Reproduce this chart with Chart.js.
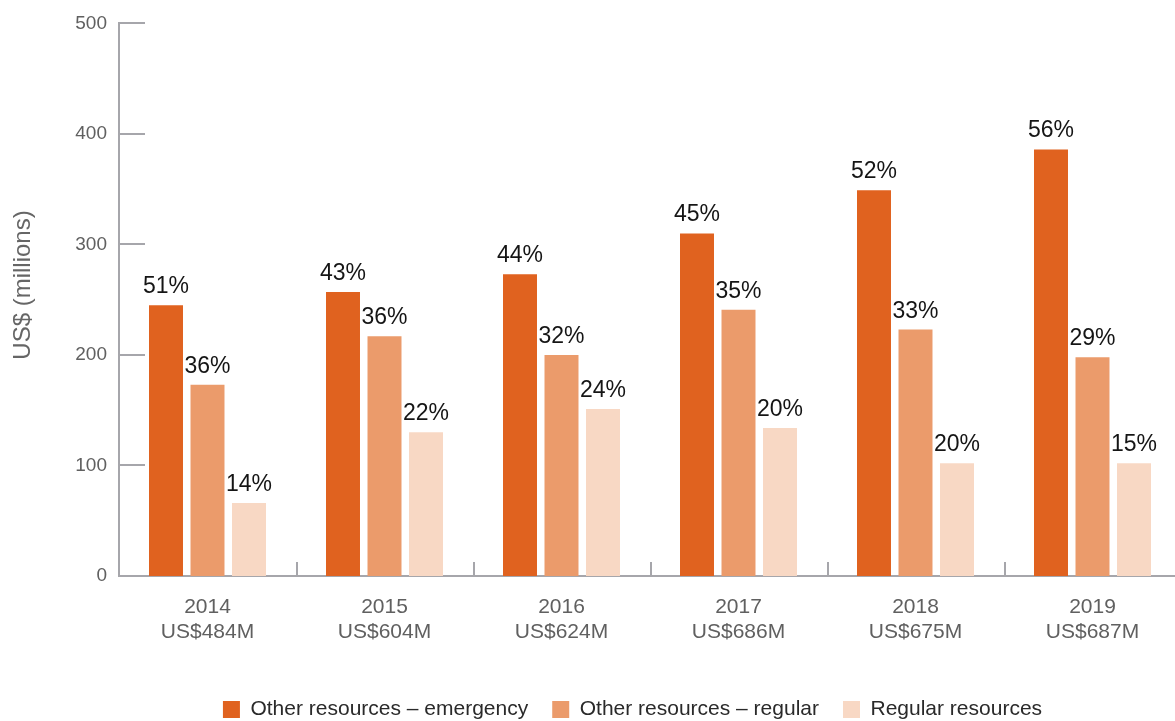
<!DOCTYPE html>
<html>
<head>
<meta charset="utf-8">
<script src="https://cdn.jsdelivr.net/npm/chart.js@4/dist/chart.umd.min.js"></script>
<style>
  html, body { margin: 0; padding: 0; background: #ffffff; overflow: hidden; }
  #wrap { width: 1175px; height: 721px; overflow: hidden; position: relative; }
  canvas { display: block; }
</style>
</head>
<body>
<div id="wrap"><canvas id="chart" width="1190" height="730"></canvas></div>
<script>
// Funding by year, US$ millions
const years = ['2014', '2015', '2016', '2017', '2018', '2019'];
const totals = ['US$484M', 'US$604M', 'US$624M', 'US$686M', 'US$675M', 'US$687M'];

const emergency = [245, 257, 273, 310, 349, 386];
const otherRegular = [173, 217, 200, 241, 223, 198];
const regularRes = [66, 130, 151, 134, 102, 102];

// Share of each year's total, printed above the bars
const emergencyShare = ['51%', '43%', '44%', '45%', '52%', '56%'];
const otherRegularShare = ['36%', '36%', '32%', '35%', '33%', '29%'];
const regularResShare = ['14%', '22%', '24%', '20%', '20%', '15%'];

const yTicks = [0, 100, 200, 300, 400, 500];

const AXIS = '#a6a6ab';
const FONT = '"Liberation Sans", Arial, sans-serif';

const labelsByDataset = [emergencyShare, otherRegularShare, regularResShare];

const overlay = {
  id: 'overlay',
  afterLayout(chart) {
    // nudge the legend row to the right of centre
    if (chart.legend) {
      chart.legend.left += 42;
      chart.legend.right += 42;
    }
  },
  afterDraw(chart) {
    const { ctx, chartArea, scales: { x, y } } = chart;
    ctx.save();
    ctx.strokeStyle = AXIS;
    ctx.lineWidth = 2;
    // short tick marks to the right of the value axis
    yTicks.forEach(v => {
      if (v === 0) return;
      const py = Math.round(y.getPixelForValue(v));
      ctx.beginPath();
      ctx.moveTo(chartArea.left, py);
      ctx.lineTo(chartArea.left + 26, py);
      ctx.stroke();
    });
    // small dividers between year groups
    for (let i = 0; i < years.length - 1; i++) {
      const px = Math.round((x.getPixelForValue(i) + x.getPixelForValue(i + 1)) / 2) + 1;
      ctx.beginPath();
      ctx.moveTo(px, chartArea.bottom - 14);
      ctx.lineTo(px, chartArea.bottom);
      ctx.stroke();
    }
    // percentage labels
    ctx.fillStyle = '#151515';
    ctx.font = '23px ' + FONT;
    ctx.textAlign = 'center';
    ctx.textBaseline = 'alphabetic';
    chart.data.datasets.forEach((ds, di) => {
      const meta = chart.getDatasetMeta(di);
      meta.data.forEach((bar, i) => {
        ctx.fillText(labelsByDataset[di][i], bar.x, bar.y - 12);
      });
    });
    // value axis title
    ctx.fillStyle = '#666666';
    ctx.font = '24px ' + FONT;
    ctx.translate(23, 285);
    ctx.rotate(-Math.PI / 2);
    ctx.textBaseline = 'middle';
    ctx.fillText('US$ (millions)', 0, 0);
    ctx.restore();
  }
};

new Chart(document.getElementById('chart'), {
  type: 'bar',
  data: {
    labels: years.map((yr, i) => [yr, totals[i]]),
    datasets: [
      { label: 'Other resources \u2013 emergency', data: emergency, backgroundColor: '#e0621f', borderWidth: 0 },
      { label: 'Other resources \u2013 regular', data: otherRegular, backgroundColor: '#eb9b6b', borderWidth: 0 },
      { label: 'Regular resources', data: regularRes, backgroundColor: '#f8d8c4', borderWidth: 0 }
    ]
  },
  options: {
    responsive: false,
    devicePixelRatio: 1,
    animation: false,
    categoryPercentage: 0.7034,
    barPercentage: 0.819,
    layout: { padding: { left: 0, right: 9, top: 21, bottom: 0 } },
    plugins: {
      tooltip: { enabled: false },
      legend: {
        position: 'bottom',
        labels: {
          boxWidth: 17,
          boxHeight: 17,
          padding: 24,
          color: '#2a2a2a',
          font: { family: FONT, size: 21 }
        }
      }
    },
    scales: {
      x: {
        grid: { display: false, drawTicks: false },
        border: { display: true, color: AXIS, width: 2 },
        ticks: {
          color: '#606060',
          padding: 19,
          maxRotation: 0,
          font: { family: FONT, size: 21, lineHeight: '25px' }
        },
        afterFit(scale) { scale.height = 99; }
      },
      y: {
        min: 0,
        max: 500,
        grid: { display: false, drawTicks: false },
        border: { display: true, color: AXIS, width: 2 },
        afterBuildTicks(scale) { scale.ticks = yTicks.map(v => ({ value: v })); },
        ticks: {
          color: '#606060',
          padding: 12,
          font: { family: FONT, size: 19 }
        },
        afterFit(scale) { scale.width = 119; }
      }
    }
  },
  plugins: [overlay]
});
</script>
</body>
</html>
